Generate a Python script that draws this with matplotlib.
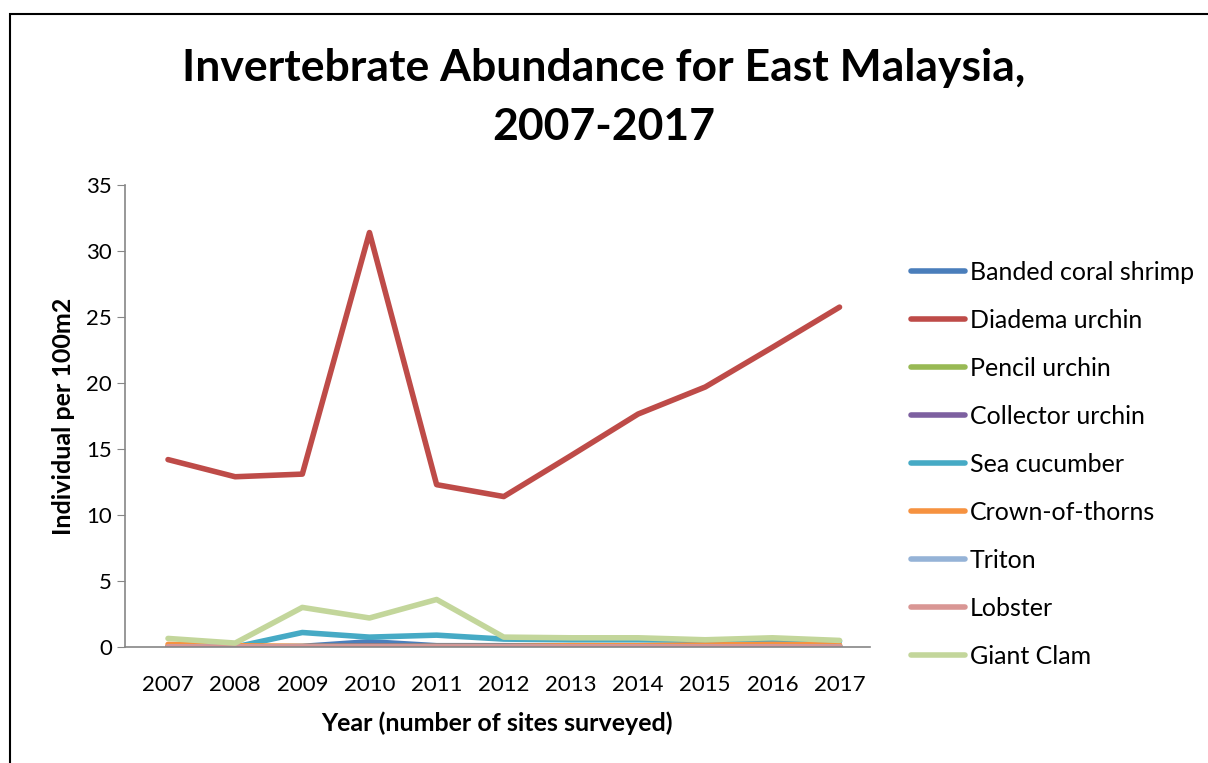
import matplotlib.pyplot as plt
from matplotlib.patches import Rectangle

plt.rcParams["font.family"] = ["Lato", "DejaVu Sans"]

years = ["2007", "2008", "2009", "2010", "2011", "2012", "2013", "2014", "2015", "2016", "2017"]

banded_coral_shrimp = [0.0, 0.0, 0.05, 0.4, 0.1, 0.1, 0.1, 0.1, 0.1, 0.1, 0.1]
diadema_urchin = [14.2, 12.9, 13.1, 31.4, 12.3, 11.4, 14.5, 17.65, 19.7, 22.7, 25.75]
pencil_urchin = [0.0, 0.0, 0.0, 0.0, 0.0, 0.0, 0.0, 0.0, 0.0, 0.0, 0.0]
collector_urchin = [0.0, 0.0, 0.0, 0.05, 0.0, 0.0, 0.0, 0.0, 0.0, 0.0, 0.0]
sea_cucumber = [0.0, 0.0, 1.1, 0.75, 0.9, 0.6, 0.55, 0.55, 0.5, 0.55, 0.45]
crown_of_thorns = [0.2, 0.1, 0.05, 0.05, 0.05, 0.05, 0.1, 0.1, 0.15, 0.2, 0.15]
triton = [0.0, 0.0, 0.0, 0.0, 0.0, 0.0, 0.0, 0.0, 0.0, 0.0, 0.0]
lobster = [0.0, 0.0, 0.0, 0.0, 0.0, 0.0, 0.0, 0.0, 0.0, 0.0, 0.0]
giant_clam = [0.65, 0.3, 3.0, 2.2, 3.6, 0.75, 0.7, 0.7, 0.55, 0.7, 0.5]

series = [
    ("Banded coral shrimp", banded_coral_shrimp, "#4a7ebb"),
    ("Diadema urchin", diadema_urchin, "#be4b48"),
    ("Pencil urchin", pencil_urchin, "#98b954"),
    ("Collector urchin", collector_urchin, "#7d60a0"),
    ("Sea cucumber", sea_cucumber, "#46aac5"),
    ("Crown-of-thorns", crown_of_thorns, "#f69240"),
    ("Triton", triton, "#95b3d7"),
    ("Lobster", lobster, "#d99694"),
    ("Giant Clam", giant_clam, "#c3d69b"),
]

fig = plt.figure(figsize=(12.08, 7.63), dpi=100)
ax = fig.add_axes([0.1035, 0.152, 0.6165, 0.6055])

x = list(range(len(years)))
for name, vals, col in series:
    ax.plot(x, vals, color=col, linewidth=4, label=name, solid_capstyle="round")

ax.set_xlim(-0.64, 10.45)
ax.set_ylim(0, 35)
ax.set_yticks(range(0, 36, 5))
ax.set_xticks(x)
ax.set_xticklabels(years)
ax.tick_params(axis="both", labelsize=16, color="#868686", length=6)
ax.tick_params(axis="x", length=0, pad=20)
for s in ["top", "right"]:
    ax.spines[s].set_visible(False)
for s in ["left", "bottom"]:
    ax.spines[s].set_color("#868686")
    ax.spines[s].set_linewidth(1.2)

ax.set_ylabel("Individual per 100m2", fontsize=18, fontweight="bold", labelpad=8)
ax.set_xlabel("Year (number of sites surveyed)", fontsize=18, fontweight="bold", labelpad=12)

fig.text(0.5, 0.872, "Invertebrate Abundance for East Malaysia,\n2007-2017", ha="center", va="center",
         fontsize=32, fontweight="bold", linespacing=1.58)

ax.legend(loc="upper left", bbox_to_anchor=(1.025, 0.885), frameon=False, fontsize=18,
          handlelength=2.15, labelspacing=1.0, handletextpad=0.2)

fig.patches.append(Rectangle((10 / 1208, -0.1), 1.2, 1 - 14 / 763 + 0.1, transform=fig.transFigure,
                             fill=False, edgecolor="black", linewidth=1.5))

fig.savefig("out.png", dpi=100)
